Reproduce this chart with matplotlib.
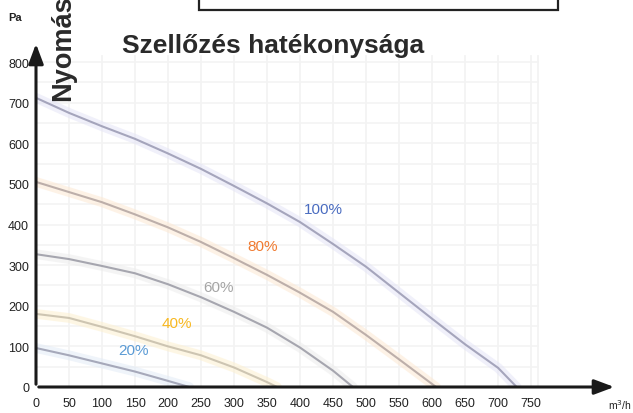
import matplotlib
matplotlib.use("Agg")
import matplotlib.pyplot as plt
from matplotlib.patches import Rectangle

plt.rcParams['font.family'] = ['Liberation Sans', 'DejaVu Sans']

# Data (airflow m3/h, pressure Pa)
x100 = [0, 50, 100, 150, 200, 250, 300, 350, 400, 450, 500, 550, 600, 650, 700, 728]
y100 = [712, 675, 642, 611, 575, 537, 495, 452, 406, 352, 296, 232, 168, 105, 47, 0]
x80 = [0, 50, 100, 150, 200, 250, 300, 350, 400, 450, 500, 550, 606]
y80 = [505, 480, 455, 425, 393, 357, 317, 276, 232, 185, 128, 68, 0]
x60 = [0, 50, 100, 150, 200, 250, 300, 350, 400, 450, 480]
y60 = [327, 315, 298, 280, 253, 221, 185, 146, 97, 40, 0]
x40 = [0, 50, 100, 150, 200, 250, 300, 350, 365]
y40 = [180, 170, 148, 125, 100, 78, 48, 12, 0]
x20 = [0, 50, 100, 150, 200, 232]
y20 = [96, 78, 58, 38, 15, 0]

labels = ['100%', '80%', '60%', '40%', '20%']
label_x = [435, 344, 276, 214, 147]
label_y = [438, 347, 246, 158, 91]
label_colors = ['#4a6cc0', '#f07a30', '#a5a5a5', '#f8b820', '#5b9bd5']
halo_colors = ['#e4e4f6', '#fde8d2', '#ececec', '#fdf0cf', '#e2ebf6']
line_colors = ['#9393ad', '#ad9f9c', '#93939e', '#c2b9a6', '#9496ab']

xticks = list(range(0, 751, 50))
yticks = list(range(0, 801, 100))

fig = plt.figure(figsize=(6.33, 4.14), dpi=100)
ax = fig.add_axes([36/633, 26/414, (617-36)/633, (388-42)/414])
ax.set_xlim(0, 880)
ax.set_ylim(0, 852)
for s in ax.spines.values():
    s.set_visible(False)

# faint grid
for gx in xticks + [760]:
    ax.plot([gx, gx], [0, 815], color='#f2f2f2', lw=1.2, zorder=0)
for gy in range(0, 801, 50):
    ax.plot([0, 760], [gy, gy], color='#f3f3f3', lw=1.2, zorder=0)

series = [(x100, y100), (x80, y80), (x60, y60), (x40, y40), (x20, y20)]
for (xs, ys), hc, lc in zip(series, halo_colors, line_colors):
    ax.plot(xs, ys, color=hc, lw=7, alpha=0.55, solid_capstyle='round',
            solid_joinstyle='round', zorder=1)
    ax.plot(xs, ys, color=lc, lw=1.5, alpha=0.8, solid_joinstyle='round', zorder=2)

for t, lx, ly, c in zip(labels, label_x, label_y, label_colors):
    ax.text(lx, ly, t, color=c, fontsize=11, ha='center', va='center', zorder=3)

# axes arrows
ax.annotate('', xy=(880, 0), xytext=(0, 0),
            arrowprops=dict(arrowstyle='-|>,head_length=1.2,head_width=0.45', color='#1a1a1a', lw=2.2),
            annotation_clip=False, zorder=4)
ax.annotate('', xy=(0, 852), xytext=(0, 0),
            arrowprops=dict(arrowstyle='-|>,head_length=1.2,head_width=0.45', color='#1a1a1a', lw=2.2),
            annotation_clip=False, zorder=4)

ax.set_xticks(xticks)
ax.set_xticklabels([str(v) for v in xticks])
ax.set_yticks(yticks)
ax.set_yticklabels([str(v) for v in yticks])
ax.tick_params(length=0, labelsize=9, colors='#222222', pad=7)
ax.tick_params(axis='y', pad=5)

fig.text(273/633, 1 - 46/414, 'Szellőzés hatékonysága', fontsize=19, fontweight='bold',
         color='#2a2a2a', ha='center', va='center')
fig.text(63/633, 1 - 101/414, 'Nyomás', fontsize=19.5, fontweight='bold', rotation=90,
         color='#2a2a2a', ha='center', va='bottom')
fig.text(15/633, 1 - 18/414, 'Pa', fontsize=8, fontweight='bold', color='#222222',
         ha='center', va='center')
fig.text(620/633, 1 - 405/414, 'm$^3$/h', fontsize=7.5, color='#222222',
         ha='center', va='center')

fig.patches.append(Rectangle((199/633, 1 - 11/414), (558-199)/633, 0.2,
                             transform=fig.transFigure, facecolor='white',
                             edgecolor='#222222', lw=1.6))

fig.savefig('out.png', dpi=100)
